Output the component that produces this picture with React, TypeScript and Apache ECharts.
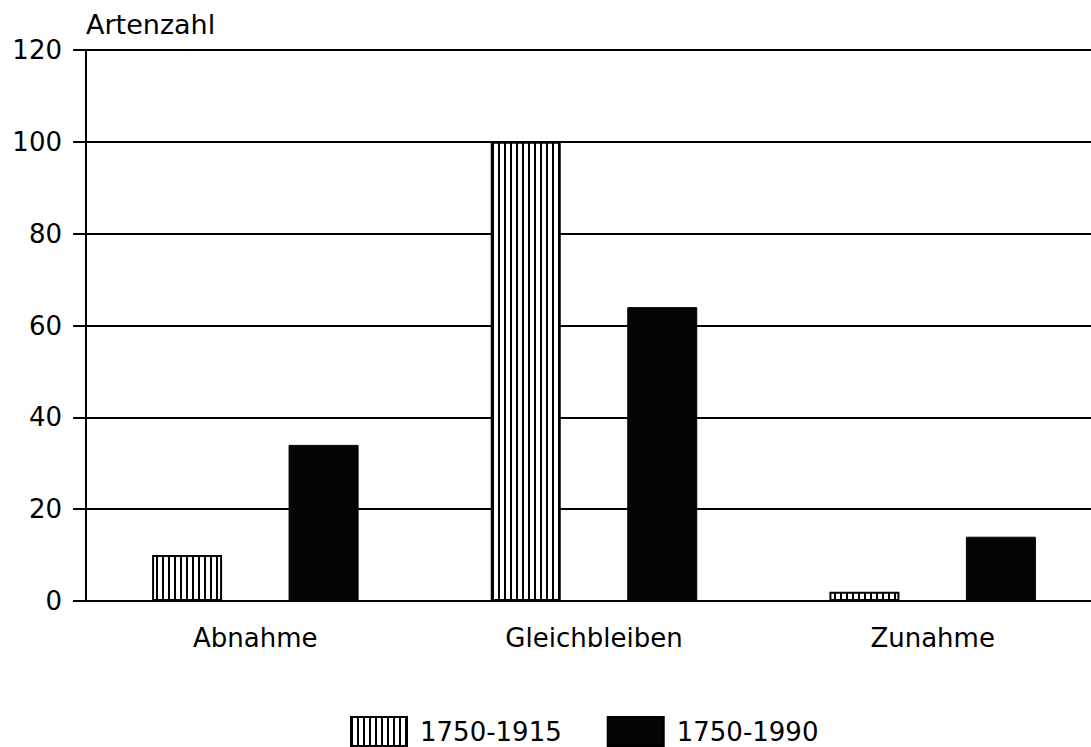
import React, { useEffect, useRef } from "react";
import * as echarts from "echarts";

const categories = ["Abnahme", "Gleichbleiben", "Zunahme"];
const seriesNames = ["1750-1915", "1750-1990"];
const values1915 = [10, 100, 2];
const values1990 = [34, 64, 14];
const yTicks = { min: 0, max: 120, interval: 20 };
const yTitle = "Artenzahl";

const FONT = "DejaVu Sans";

function makeHatch(): HTMLCanvasElement {
  const c = document.createElement("canvas");
  c.width = 6;
  c.height = 6;
  const ctx = c.getContext("2d")!;
  ctx.fillStyle = "#ffffff";
  ctx.fillRect(0, 0, 6, 6);
  ctx.fillStyle = "#000000";
  ctx.fillRect(0, 0, 2, 6);
  return c;
}

export default function App() {
  const ref = useRef<HTMLDivElement>(null);
  useEffect(() => {
    document.body.style.margin = "0";
    const chart = echarts.init(ref.current!, null, { renderer: "svg" });
    const hatch = makeHatch();
    chart.setOption({
      animation: false,
      backgroundColor: "#ffffff",
      textStyle: { fontFamily: FONT, color: "#000" },
      title: {
        text: yTitle,
        left: 81,
        top: 6,
        textStyle: { fontFamily: FONT, fontSize: 27, fontWeight: "normal", color: "#000" },
      },
      grid: { left: 86, top: 50, bottom: 146, right: 0, containLabel: false },
      legend: {
        left: 345,
        top: 711,
        itemWidth: 56,
        itemHeight: 29,
        itemGap: 45,
        icon: "rect",
        textStyle: { fontFamily: FONT, fontSize: 26, lineHeight: 26, color: "#000", padding: [0, 0, 0, 8] },
        data: seriesNames,
      },
      xAxis: {
        type: "category",
        data: categories,
        axisLine: { lineStyle: { color: "#000", width: 2 } },
        axisTick: { alignWithLabel: true, length: 12, lineStyle: { color: "#000", width: 2 } },
        axisLabel: { fontFamily: FONT, fontSize: 26, color: "#000", margin: 24 },
      },
      yAxis: {
        type: "value",
        min: yTicks.min,
        max: yTicks.max,
        interval: yTicks.interval,
        axisLine: { show: true, lineStyle: { color: "#000", width: 2 } },
        axisTick: { show: true, length: 13, lineStyle: { color: "#000", width: 2 } },
        axisLabel: { fontFamily: FONT, fontSize: 26, color: "#000", margin: 24 },
        splitLine: { show: true, lineStyle: { color: "#000", width: 2 } },
      },
      series: [
        {
          name: seriesNames[0],
          type: "bar",
          data: values1915,
          barWidth: 70,
          barGap: "95%",
          itemStyle: {
            color: { image: hatch, repeat: "repeat" },
            borderColor: "#000",
            borderWidth: 2,
          },
        },
        {
          name: seriesNames[1],
          type: "bar",
          data: values1990,
          barWidth: 70,
          barGap: "95%",
          itemStyle: { color: "#050505", borderColor: "#000", borderWidth: 1 },
        },
      ],
    });
    return () => chart.dispose();
  }, []);
  return (
    <div style={{ width: 1091, height: 747, overflow: "hidden", position: "relative" }}>
      <div ref={ref} style={{ width: 1102, height: 747 }} />
    </div>
  );
}
